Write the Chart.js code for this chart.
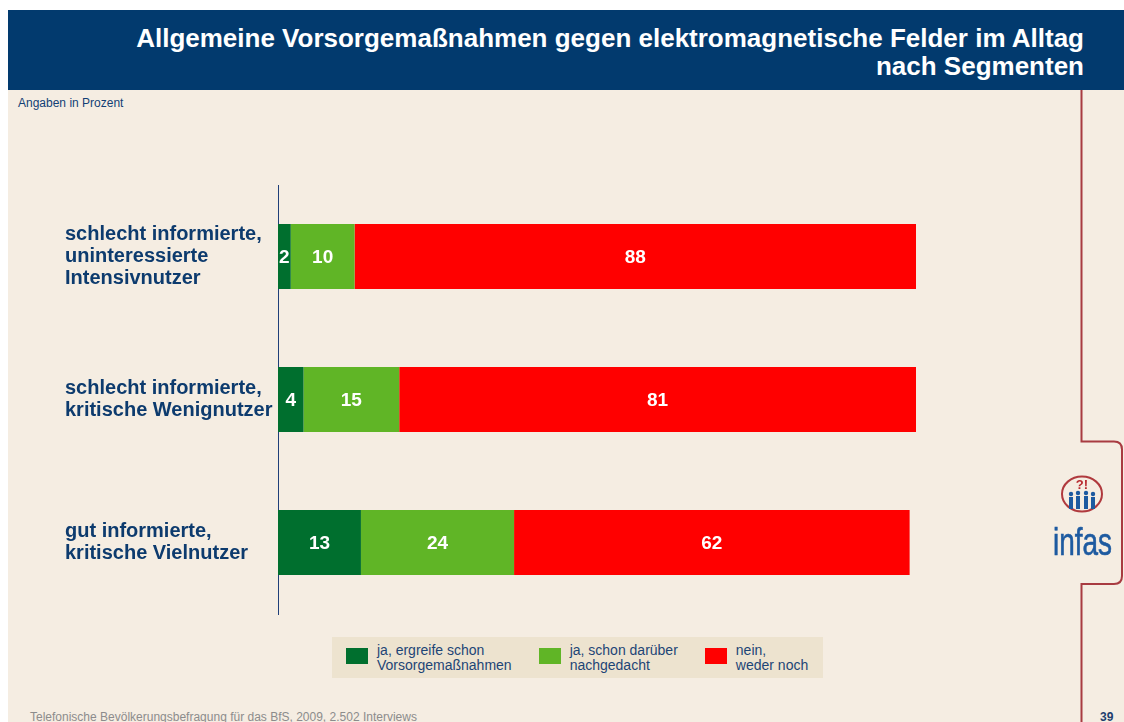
<!DOCTYPE html>
<html lang="de">
<head>
<meta charset="utf-8">
<title>Allgemeine Vorsorgemaßnahmen nach Segmenten</title>
<script src="https://cdn.jsdelivr.net/npm/chart.js@4.4.1/dist/chart.umd.min.js"></script>
<style>
    html, body { margin: 0; padding: 0; }
    body {
        width: 1124px; height: 722px; position: relative; overflow: hidden;
        background: #ffffff; font-family: "Liberation Sans", Arial, sans-serif;
    }
    #page { position: absolute; left: 8px; top: 10px; width: 1116px; height: 712px; background: #f5ede2; }
    #header { position: absolute; left: 8px; top: 10px; width: 1116px; height: 80px; background: #023a6e; }
    #title {
        position: absolute; right: 40px; top: 24px; margin: 0;
        color: #ffffff; font-size: 26px; line-height: 28px; font-weight: bold; text-align: right;
    }
    #unit { position: absolute; left: 18px; top: 96px; font-size: 12px; line-height: 14px; color: #123f75; }
    #chart-box { position: absolute; left: 0; top: 170px; width: 1000px; height: 460px; }
    #legend {
        position: absolute; left: 332px; top: 637px; width: 491px; height: 41px;
        background: #ede3cf; display: flex; align-items: flex-start;
    }
    .legend-item { display: flex; align-items: flex-start; margin-left: 14px; margin-right: 13px; }
    .legend-swatch { width: 22px; height: 16px; margin-top: 11px; margin-right: 9px; flex: none; }
    .legend-text { margin-top: 6px; font-size: 14px; line-height: 15px; color: #1d4576; white-space: pre; }
    #source { position: absolute; left: 30px; top: 710px; font-size: 12px; line-height: 14px; color: #8c8c8c; }
    #pagenum { position: absolute; left: 1100px; top: 710px; font-size: 12px; line-height: 14px; font-weight: bold; color: #1d3f6e; }
    #deco { position: absolute; left: 0; top: 0; }
</style>
</head>
<body>
<div id="page"></div>
<div id="header"></div>
<h1 id="title">Allgemeine Vorsorgemaßnahmen gegen elektromagnetische Felder im Alltag<br>nach Segmenten</h1>
<div id="unit">Angaben in Prozent</div>

<div id="chart-box"><canvas id="segment-bars"></canvas></div>
<div id="legend"></div>

<div id="source">Telefonische Bevölkerungsbefragung für das BfS, 2009, 2.502 Interviews</div>
<div id="pagenum">39</div>

<svg id="deco" width="1124" height="722">
    <path d="M1081.5 90 V441.5 H1114 Q1122 441.5 1122 449.5 V576 Q1122 584 1114 584 H1081.5 V722"
          fill="none" stroke="#a83b41" stroke-width="2"/>
    <!-- infas logo -->
    <ellipse cx="1082" cy="494" rx="20" ry="17.5" fill="none" stroke="#b03a3e" stroke-width="2"/>
    <text x="1082" y="489" text-anchor="middle" font-family="Liberation Sans, Arial" font-weight="bold"
          font-size="13" fill="#b8292f">?!</text>
    <g fill="#1d5aa0">
        <circle cx="1071" cy="494" r="2.2"/><rect x="1069" y="497" width="4" height="12"/>
        <circle cx="1078" cy="493" r="2.2"/><rect x="1076" y="496" width="4" height="13"/>
        <circle cx="1086" cy="493" r="2.2"/><rect x="1084" y="496" width="4" height="13"/>
        <circle cx="1093" cy="494" r="2.2"/><rect x="1091" y="497" width="4" height="12"/>
    </g>
    <text x="1053" y="555" font-family="Liberation Sans, Arial" font-size="38" fill="#1d5aa0"
          stroke="#1d5aa0" stroke-width="0.6"
          textLength="59" lengthAdjust="spacingAndGlyphs">infas</text>
</svg>

<script>
var segments = [
    ["schlecht informierte,", "uninteressierte", "Intensivnutzer"],
    ["schlecht informierte,", "kritische Wenignutzer"],
    ["gut informierte,", "kritische Vielnutzer"]
];
var seriesNames = ["ja, ergreife schon\nVorsorgemaßnahmen", "ja, schon darüber\nnachgedacht", "nein,\nweder noch"];
var seriesColors = ["#006f2e", "#60b526", "#ff0000"];
var alreadyActing = [2, 4, 13];
var thoughtAbout = [10, 15, 24];
var neither = [88, 81, 62];

var labelFont = '"Liberation Sans", Arial, sans-serif';

// white numbers in the middle of every segment
var segmentLabels = {
    id: "segmentLabels",
    afterDatasetsDraw: function (chart) {
        var ctx = chart.ctx;
        ctx.save();
        ctx.font = "bold 19px " + labelFont;
        ctx.fillStyle = "#ffffff";
        ctx.textAlign = "center";
        ctx.textBaseline = "middle";
        chart.data.datasets.forEach(function (ds, i) {
            chart.getDatasetMeta(i).data.forEach(function (bar, j) {
                var p = bar.getProps(["x", "y", "base"], true);
                ctx.fillText(ds.data[j], (p.x + p.base) / 2, p.y + 1);
            });
        });
        ctx.restore();
    }
};

var values = [alreadyActing, thoughtAbout, neither];
var data = {
    labels: segments,
    datasets: values.map(function (v, i) {
        return {
            label: seriesNames[i],
            data: v,
            backgroundColor: seriesColors[i],
            borderWidth: 0,
            categoryPercentage: 1,
            barPercentage: 0.455
        };
    })
};

new Chart(document.getElementById("segment-bars"), {
    type: "bar",
    data: data,
    plugins: [segmentLabels],
    options: {
        indexAxis: "y",
        responsive: true,
        maintainAspectRatio: false,
        animation: false,
        layout: { padding: { left: 65, right: 84, top: 15, bottom: 16 } },
        plugins: { legend: { display: false }, tooltip: { enabled: false } },
        scales: {
            x: { stacked: true, min: 0, max: 100, display: false },
            y: {
                stacked: true,
                grid: { display: false },
                border: { display: true, color: "#1f3f78", width: 1 },
                afterFit: function (scale) {
                    scale.width = 213;
                    scale.paddingTop = 0;
                    scale.paddingBottom = 0;
                },
                ticks: {
                    crossAlign: "far",
                    color: "#0d3b6e",
                    font: { family: labelFont, size: 20, weight: "bold", lineHeight: 1.08 }
                }
            }
        }
    }
});

// legend box below the chart
var legend = document.getElementById("legend");
seriesNames.forEach(function (name, i) {
    var item = document.createElement("div");
    item.className = "legend-item";
    var swatch = document.createElement("div");
    swatch.className = "legend-swatch";
    swatch.style.background = seriesColors[i];
    var text = document.createElement("div");
    text.className = "legend-text";
    text.textContent = name;
    item.appendChild(swatch);
    item.appendChild(text);
    legend.appendChild(item);
});
</script>
</body>
</html>
